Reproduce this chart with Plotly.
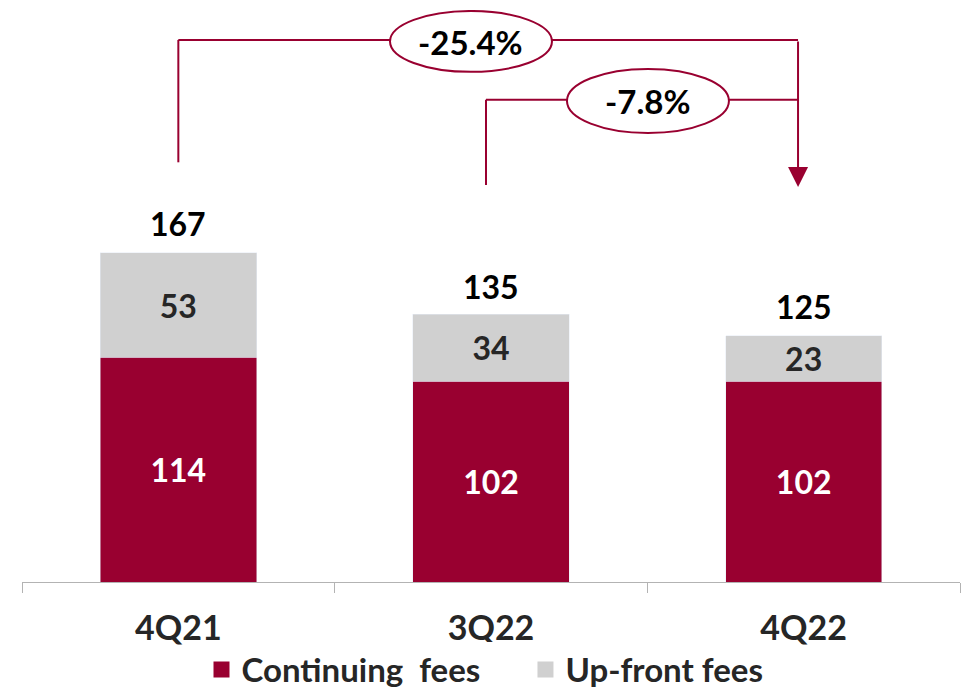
import plotly.graph_objects as go

categories = ["4Q21", "3Q22", "4Q22"]
continuing_fees = [114, 102, 102]
upfront_fees = [53, 34, 23]
totals = [167, 135, 125]
changes = ["-25.4%", "-7.8%"]

RED = "#990030"
GREY = "#d0d0d0"
FONT = "Lato"

fig = go.Figure()
fig.add_trace(go.Bar(
    x=categories, y=continuing_fees, marker_color=RED, showlegend=False,
    text=[str(v) for v in continuing_fees], textposition="inside", textangle=0,
    insidetextanchor="middle", constraintext="none",
    textfont=dict(family=FONT, size=32, color="white", weight="bold"),
))
fig.add_trace(go.Bar(
    x=categories, y=upfront_fees, marker_color=GREY, showlegend=False,
    text=[str(v) for v in upfront_fees], textposition="inside", textangle=0,
    insidetextanchor="middle", constraintext="none",
    textfont=dict(family=FONT, size=32, color="#262626", weight="bold"),
))
# legend proxies
fig.add_trace(go.Scatter(x=[None], y=[None], mode="markers",
                         name="Continuing\u00a0\u00a0fees\u00a0\u00a0\u00a0\u00a0\u00a0",
                         marker=dict(symbol="square", size=18, color=RED)))
fig.add_trace(go.Scatter(x=[None], y=[None], mode="markers", name="Up-front fees",
                         marker=dict(symbol="square", size=18, color=GREY)))

for c, t in zip(categories, totals):
    fig.add_annotation(x=c, y=t, text=str(t), showarrow=False, yanchor="bottom", yshift=8,
                       font=dict(family=FONT, size=32, color="black", weight="bold"))

line = dict(color=RED, width=2)
# bracket 1 (4Q21 -> 4Q22)
y1 = 275.1
fig.add_shape(type="line", x0=0, x1=0, y0=213, y1=y1, xref="x", yref="y", line=line)
fig.add_shape(type="line", x0=0, x1=0.677, y0=y1, y1=y1, xref="x", yref="y", line=line)
fig.add_shape(type="line", x0=1.195, x1=1.982, y0=y1, y1=y1, xref="x", yref="y", line=line)
# bracket 2 (3Q22 -> 4Q22)
y2 = 244.7
fig.add_shape(type="line", x0=0.984, x1=0.984, y0=201.5, y1=y2, xref="x", yref="y", line=line)
fig.add_shape(type="line", x0=0.984, x1=1.243, y0=y2, y1=y2, xref="x", yref="y", line=line)
fig.add_shape(type="line", x0=1.761, x1=1.982, y0=y2, y1=y2, xref="x", yref="y", line=line)
# arrow down to 4Q22
fig.add_annotation(x=1.982, y=200.5, ax=1.982, ay=y1, xref="x", yref="y", axref="x", ayref="y",
                   text="", showarrow=True, arrowhead=2, arrowsize=2, arrowwidth=2, arrowcolor=RED)
# ellipses
fig.add_shape(type="circle", x0=0.677, x1=1.195, y0=258.9, y1=289.8, xref="x", yref="y",
              line=line, fillcolor="white")
fig.add_shape(type="circle", x0=1.243, x1=1.761, y0=227.9, y1=260.4, xref="x", yref="y",
              line=line, fillcolor="white")
fig.add_annotation(x=0.936, y=274.3, text=changes[0], showarrow=False, xref="x", yref="y",
                   font=dict(family=FONT, size=33, color="black", weight="bold"))
fig.add_annotation(x=1.502, y=244.2, text=changes[1], showarrow=False, xref="x", yref="y",
                   font=dict(family=FONT, size=33, color="black", weight="bold"))

fig.update_layout(
    width=964, height=691,
    margin=dict(l=22, r=4, t=10, b=109, autoexpand=False),
    barmode="stack", bargap=0.5,
    plot_bgcolor="white", paper_bgcolor="white",
    font=dict(family=FONT, size=30, color="#262626"),
    legend=dict(orientation="h", x=0.4936, xanchor="center", y=-0.153, yanchor="middle",
                font=dict(family=FONT, size=33, color="#262626", weight="bold"),
                itemwidth=30, tracegroupgap=0, traceorder="normal"),
    xaxis=dict(showline=True, linecolor="#b3b3b3", linewidth=1, ticks="outside",
               tickson="boundaries", ticklen=10, tickcolor="#b3b3b3", range=[-0.5, 2.5],
               tickfont=dict(family=FONT, size=34, color="#262626", weight="bold"),
               ticklabelstandoff=16, fixedrange=True, automargin=False),
    yaxis=dict(visible=False, range=[0, 290.3], fixedrange=True, automargin=False),
    showlegend=True,
)

fig.write_html("out.html", config={"displayModeBar": False},
               post_script="document.body.style.margin='0';")
